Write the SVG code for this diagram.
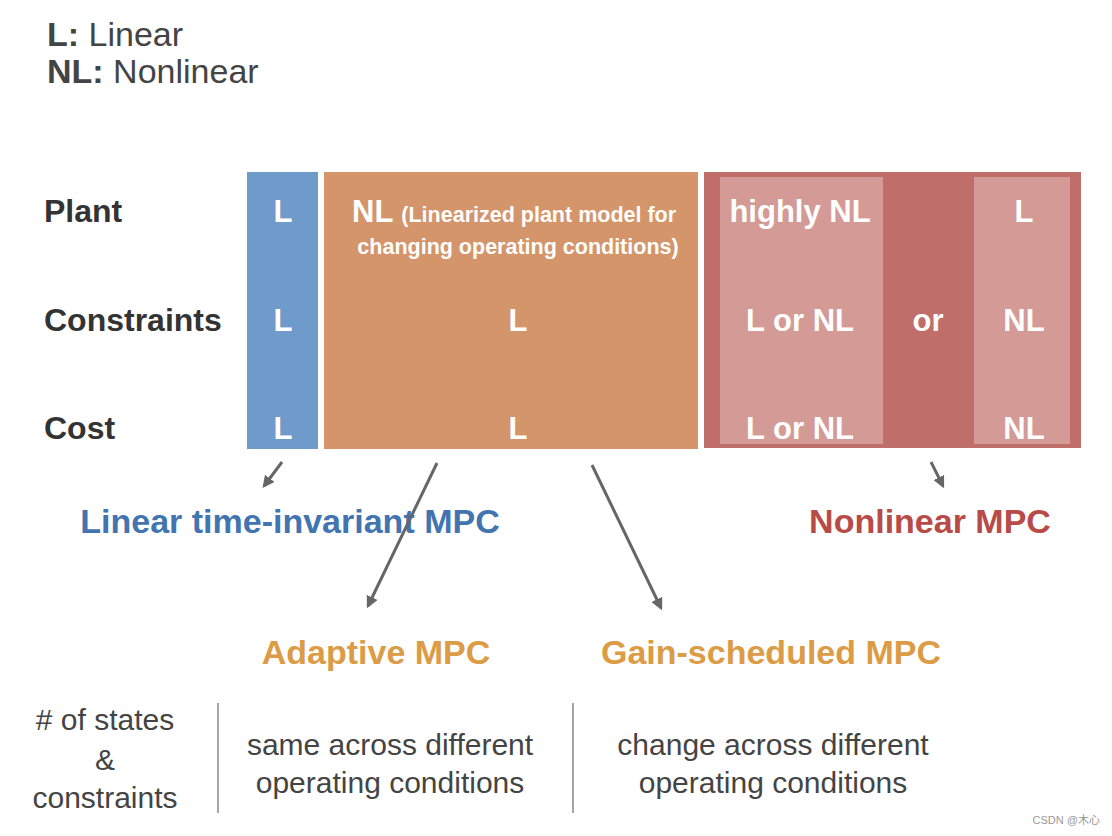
<svg xmlns="http://www.w3.org/2000/svg" width="1112" height="836" viewBox="0 0 1112 836">
<defs>
<style>
text{font-family:"Liberation Sans",Arial,sans-serif;}
.row{font-size:32px;font-weight:bold;fill:#333;}
.cell{font-size:31px;font-weight:bold;fill:#fff;text-anchor:middle;}
.small{font-size:21.5px;font-weight:bold;fill:#fff;}
.leg{font-size:34px;fill:#444;}
.bot{font-size:30px;fill:#444;text-anchor:middle;}
.mpc{font-size:34px;font-weight:bold;text-anchor:middle;}
.arr{stroke:#666;stroke-width:3;fill:none;marker-end:url(#ah);}
.sep{stroke:#888;stroke-width:1.5;}
</style>
<marker id="ah" viewBox="0 0 10 10" refX="8" refY="5" markerWidth="4" markerHeight="4" orient="auto">
<path d="M0,0 L10,5 L0,10 z" fill="#666"/>
</marker>
</defs>
<rect width="1112" height="836" fill="#fff"/>
<g id="legend">
<text class="leg" x="47" y="46"><tspan font-weight="bold">L:</tspan> Linear</text>
<text class="leg" x="47" y="83"><tspan font-weight="bold">NL:</tspan> Nonlinear</text>
</g>
<g id="row-labels">
<text class="row" x="44" y="222">Plant</text>
<text class="row" x="44" y="331">Constraints</text>
<text class="row" x="44" y="439">Cost</text>
</g>
<g id="linear-col">
<rect x="247" y="172" width="71" height="277" fill="#6e9bca"/>
<text class="cell" x="283" y="222">L</text>
<text class="cell" x="283" y="331">L</text>
<text class="cell" x="283" y="439">L</text>
</g>
<g id="adaptive-col">
<rect x="324" y="172" width="374" height="277" fill="#d4956b"/>
<text x="352" y="222"><tspan class="cell" style="text-anchor:start">NL</tspan><tspan class="small" dx="8">(Linearized plant model for</tspan></text>
<text class="small" x="518" y="254" text-anchor="middle">changing operating conditions)</text>
<text class="cell" x="518" y="331">L</text>
<text class="cell" x="518" y="439">L</text>
</g>
<g id="nonlinear-col">
<rect x="704" y="172" width="377" height="276" fill="#c06e6a"/>
<rect x="720" y="177" width="163" height="267" fill="#d49a96"/>
<rect x="974" y="177" width="96" height="267" fill="#d49a96"/>
<text class="cell" x="800" y="222">highly NL</text>
<text class="cell" x="800" y="331">L or NL</text>
<text class="cell" x="800" y="439">L or NL</text>
<text class="cell" x="928" y="331">or</text>
<text class="cell" x="1024" y="222">L</text>
<text class="cell" x="1024" y="331">NL</text>
<text class="cell" x="1024" y="439">NL</text>
</g>
<g id="lti-label">
<text class="mpc" x="290" y="533" fill="#4275b0">Linear time-invariant MPC</text>
</g>
<g id="nmpc-label">
<text class="mpc" x="930" y="533" fill="#b84b47">Nonlinear MPC</text>
</g>
<g id="adaptive-label">
<text class="mpc" x="376" y="664" fill="#dc9b45">Adaptive MPC</text>
</g>
<g id="gain-label">
<text class="mpc" x="771" y="664" fill="#dc9b45">Gain-scheduled MPC</text>
</g>
<g id="connectors">
<line class="arr" x1="282" y1="462" x2="264" y2="486"/>
<line class="arr" x1="437" y1="463" x2="368" y2="606"/>
<line class="arr" x1="592" y1="465" x2="661" y2="608"/>
<line class="arr" x1="931" y1="462" x2="943" y2="486"/>
</g>
<g id="bottom-table">
<text class="bot" x="105" y="730"># of states</text>
<text class="bot" x="105" y="770">&amp;</text>
<text class="bot" x="105" y="808">constraints</text>
<line class="sep" x1="218" y1="703" x2="218" y2="813"/>
<text class="bot" x="390" y="755">same across different</text>
<text class="bot" x="390" y="793">operating conditions</text>
<line class="sep" x1="573" y1="703" x2="573" y2="813"/>
<text class="bot" x="773" y="755">change across different</text>
<text class="bot" x="773" y="793">operating conditions</text>
</g>
<text x="1100" y="824" font-size="11" fill="#999" text-anchor="end" style="font-family:'Liberation Sans','Noto Sans CJK SC',sans-serif">CSDN @木心</text>
</svg>
